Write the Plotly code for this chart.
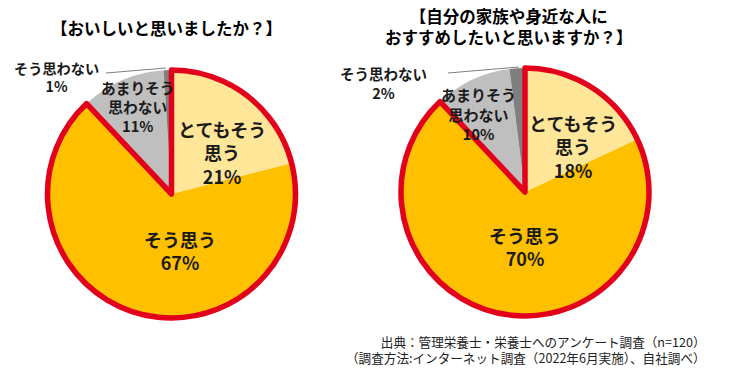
import plotly.graph_objects as go

# ---- data ----
categories = ["とてもそう思う", "そう思う", "あまりそう思わない", "そう思わない"]
label_lines = [["とてもそう", "思う"], ["そう思う"], ["あまりそう", "思わない"], ["そう思わない"]]
q1_values = [21, 67, 11, 1]
q2_values = [18, 70, 10, 2]
titles = ["【おいしいと思いましたか？】", "【自分の家族や身近な人に<br>おすすめしたいと思いますか？】"]
source_lines = ["出典：管理栄養士・栄養士へのアンケート調査（n=120）",
                "（調査方法:インターネット調査（2022年6月実施）、自社調べ）"]
positive_count = 2  # first two categories are the positive group

# ---- style ----
W, H = 733, 373
OFF = 8  # page body margin
FONT = "Noto Sans CJK JP"
colors = ["#FFE699", "#FFC000", "#BFBFBF", "#7F7F7F"]
RED = "#E2001A"

# pie geometry (pixels in screenshot): center x, center y, radius
pies = [
    dict(values=q1_values, cx=171.5, cy=194, r=124),
    dict(values=q2_values, cx=525, cy=192, r=124),
]
# label placement (pixels): x, block-center y, font size
label_pos = [
    [(222, 152, 18), (180, 250.5, 18), (137, 106.5, 14.7), (56, 76.5, 14.2)],
    [(573, 146, 18), (525, 246.5, 18), (478, 114, 15), (383, 82.5, 14.5)],
]
leaders = [((106, 73), (166, 68)), ((448, 73), (519, 67))]
title_pos = [(166, 28), (509, 26.5)]


def px(x):
    return (x - OFF) / W


def py(y):
    return 1 - (y - OFF) / H


fig = go.Figure()
annotations = []
shapes = []

for i, p in enumerate(pies):
    dom_x = [px(p["cx"] - p["r"]), px(p["cx"] + p["r"])]
    dom_y = [py(p["cy"] + p["r"]), py(p["cy"] - p["r"])]
    fig.add_trace(go.Pie(
        labels=categories, values=p["values"], sort=False, direction="clockwise",
        rotation=0, domain=dict(x=dom_x, y=dom_y),
        marker=dict(colors=colors, line=dict(width=0)),
        textinfo="none", hoverinfo="label+percent", showlegend=False,
    ))
    pos_sum = sum(p["values"][:positive_count])
    neg_sum = sum(p["values"][positive_count:])
    fig.add_trace(go.Pie(
        labels=["positive", "negative"], values=[pos_sum, neg_sum], sort=False,
        direction="clockwise", rotation=0, domain=dict(x=dom_x, y=dom_y),
        marker=dict(colors=["rgba(0,0,0,0)", "rgba(0,0,0,0)"],
                    line=dict(color=[RED, "rgba(0,0,0,0)"], width=[5.5, 0])),
        textinfo="none", hoverinfo="skip", showlegend=False,
    ))
    # labels
    for k, cat in enumerate(categories):
        x, yc, fs = label_pos[i][k]
        text = "<br>".join(label_lines[k] + [f"{p['values'][k]}%"])
        annotations.append(dict(
            x=px(x), y=py(yc), xref="paper", yref="paper",
            text=text, showarrow=False, xanchor="center", yanchor="middle",
            align="center",
            font=dict(family=FONT, size=fs, color="#1a1a1a", weight="bold"),
        ))
    (x0, y0), (x1, y1) = leaders[i]
    shapes.append(dict(type="line", xref="paper", yref="paper",
                       x0=px(x0), y0=py(y0), x1=px(x1), y1=py(y1),
                       line=dict(color="#7F7F7F", width=1)))
    tx, ty = title_pos[i]
    annotations.append(dict(
        x=px(tx), y=py(ty), xref="paper", yref="paper", text=titles[i],
        showarrow=False, xanchor="center", yanchor="middle", align="center",
        font=dict(family=FONT, size=16.5, color="#000000", weight="bold"),
    ))

annotations.append(dict(
    x=px(708), y=py(349), xref="paper", yref="paper", text="<br>".join(source_lines),
    showarrow=False, xanchor="right", yanchor="middle", align="right",
    font=dict(family=FONT, size=12.6, color="#222222"),
))

fig.update_layout(
    width=W, height=H, margin=dict(l=0, r=0, t=0, b=0),
    paper_bgcolor="white", plot_bgcolor="white",
    annotations=annotations, shapes=shapes,
)

fig.write_html("out.html")
